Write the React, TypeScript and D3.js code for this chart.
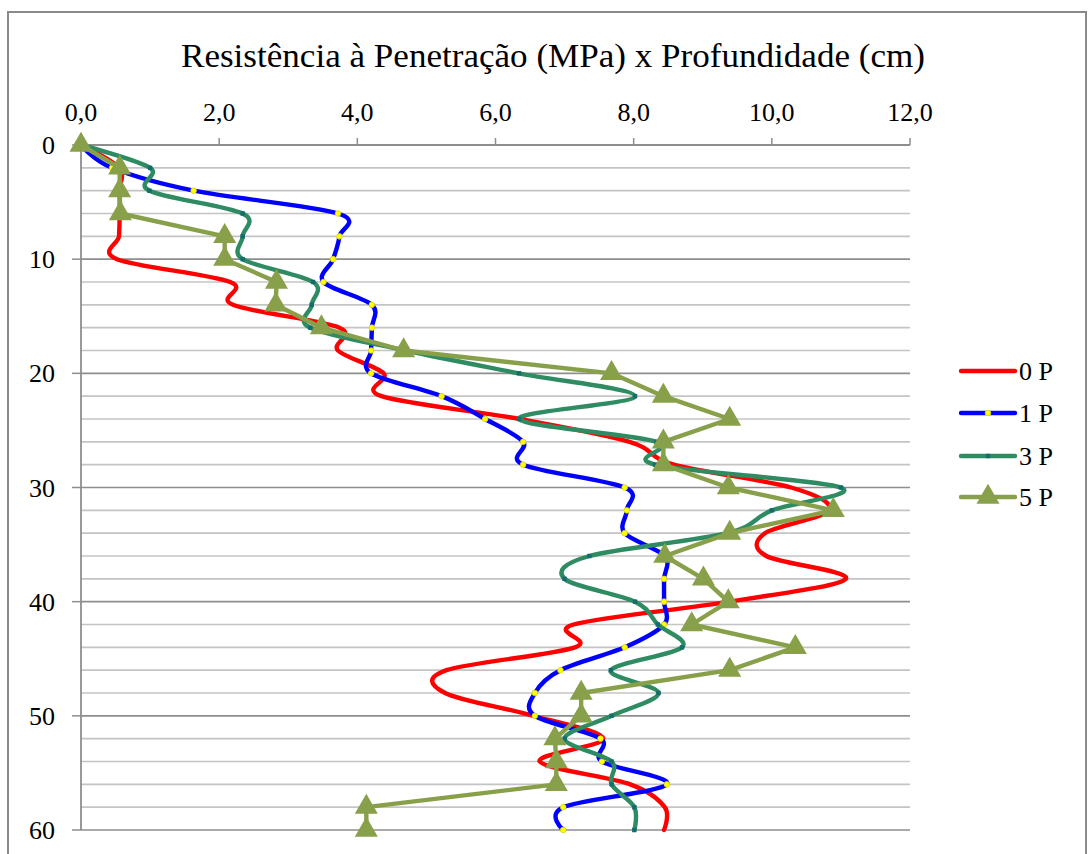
import React from "react";
import * as d3 from "d3";

const title = "Resistência à Penetração (MPa) x Profundidade (cm)";
const depths = [0, 2, 4, 6, 8, 10, 12, 14, 16, 18, 20, 22, 24, 26, 28, 30, 32, 34, 36, 38, 40, 42, 44, 46, 48, 50, 52, 54, 56, 58, 60];
const p0 = [0, 0.55, 0.56, 0.56, 0.55, 0.52, 2.16, 2.2, 3.74, 3.72, 4.38, 4.35, 6.35, 7.94, 8.58, 10.28, 10.83, 9.9, 9.92, 11.07, 9.39, 7.13, 7.15, 5.29, 5.27, 6.55, 7.56, 6.64, 7.95, 8.45, 8.44];
const p1 = [0, 0.45, 1.63, 3.72, 3.74, 3.65, 3.51, 4.21, 4.21, 4.2, 4.2, 5.22, 5.85, 6.4, 6.4, 7.87, 7.9, 7.87, 8.45, 8.44, 8.44, 8.44, 7.87, 6.94, 6.57, 6.57, 7.52, 7.54, 8.48, 6.98, 6.98];
const p3 = [0, 1.0, 0.99, 2.34, 2.34, 2.34, 3.36, 3.34, 3.32, 4.7, 6.34, 8.02, 6.34, 8.33, 8.31, 11.0, 10.0, 9.35, 7.36, 7.0, 8.02, 8.35, 8.7, 7.67, 8.36, 7.68, 7.0, 7.68, 7.68, 8.01, 8.01];
const p5 = [0, 0.56, 0.56, 0.57, 2.08, 2.08, 2.83, 2.82, 3.48, 4.67, 7.68, 8.43, 9.39, 8.43, 8.43, 9.37, 10.89, 9.39, 8.45, 9.01, 9.37, 8.84, 10.34, 9.39, 7.24, 7.24, 6.86, 6.88, 6.88, 4.13, 4.13];
const seriesNames = ["0 P", "1 P", "3 P", "5 P"];
const xTicks = [0, 2, 4, 6, 8, 10, 12];
const yTicks = [0, 10, 20, 30, 40, 50, 60];

const colors = ["#ff0000", "#0000ff", "#2e8b62", "#88a04a"];

export default function App() {
  const W = 1091, H = 854;
  const x = d3.scaleLinear().domain([0, 12]).range([81, 910]);
  const y = d3.scaleLinear().domain([0, 60]).range([145, 830]);
  const data = [p0, p1, p3, p5];
  const smooth = d3.line<number>().x((v) => x(v)).y((_, i) => y(depths[i])).curve(d3.curveCatmullRom.alpha(0));
  const straight = d3.line<number>().x((v) => x(v)).y((_, i) => y(depths[i])).curve(d3.curveLinear);
  const tri = d3.symbol().type(d3.symbolTriangle).size(230)()!;
  const gridDepths = d3.range(2, 61, 2);
  const fmt = (v: number) => v.toFixed(1).replace(".", ",");
  const serif: React.CSSProperties = { fontFamily: "'Liberation Serif', 'DejaVu Serif', 'Times New Roman', Times, serif" };
  const legendY = [371, 413, 456, 497];

  const marker = (si: number, cx: number, cy: number, key: string) => {
    if (si === 1) return <circle key={key} cx={cx} cy={cy} r={2.8} fill="#ffff00" stroke="#d8d800" strokeWidth={0.8} />;
    if (si === 2) return <rect key={key} x={cx - 2.2} y={cy - 2.2} width={4.4} height={4.4} fill="#136d6d" />;
    if (si === 3) return <path key={key} d={tri} transform={`translate(${cx},${cy})`} fill="#88a04a" />;
    return null;
  };

  return (
    <svg width={W} height={H} style={{ position: "absolute", left: 0, top: 0, background: "#fff" }}>
      <rect x={0} y={0} width={W} height={H} fill="#fff" />
      <rect x={8} y={12} width={1078} height={H + 20} fill="none" stroke="#8a8a8a" strokeWidth={2} />
      <text x={553} y={67} fontSize={33} textAnchor="middle" textLength={744} lengthAdjust="spacingAndGlyphs" fill="#000" style={serif}>{title}</text>

      {gridDepths.map((d) => (
        <line key={"g" + d} x1={x(0)} x2={x(12)} y1={y(d)} y2={y(d)}
          stroke={d % 10 === 0 ? "#8e8e8e" : "#c4c4c4"} strokeWidth={1.6} />
      ))}
      <line x1={x(0)} x2={x(12)} y1={y(0)} y2={y(0)} stroke="#8e8e8e" strokeWidth={1.8} />
      <line x1={x(0)} x2={x(0)} y1={y(0)} y2={y(60)} stroke="#8e8e8e" strokeWidth={1.8} />
      {xTicks.map((t) => (
        <g key={"xt" + t}>
          <line x1={x(t)} x2={x(t)} y1={y(0) - 7} y2={y(0)} stroke="#8e8e8e" strokeWidth={1.5} />
          <text x={x(t)} y={121} fontSize={26} textAnchor="middle" fill="#000" style={serif}>{fmt(t)}</text>
        </g>
      ))}
      {yTicks.map((t) => (
        <g key={"yt" + t}>
          <line x1={x(0) - 9} x2={x(0)} y1={y(t)} y2={y(t)} stroke="#8e8e8e" strokeWidth={1.5} />
          <text x={55} y={y(t) + 9} fontSize={26} textAnchor="end" fill="#000" style={serif}>{t}</text>
        </g>
      ))}

      {data.map((s, si) => (
        <g key={"s" + si}>
          <path d={(si === 3 ? straight : smooth)(s)!} fill="none" stroke={colors[si]} strokeWidth={4.4}
            strokeLinejoin="round" strokeLinecap="round" />
          {s.map((v, i) => marker(si, x(v), y(depths[i]), `m${si}-${i}`))}
        </g>
      ))}

      {seriesNames.map((n, si) => (
        <g key={"l" + si}>
          <line x1={961} x2={1015} y1={legendY[si]} y2={legendY[si]} stroke={colors[si]} strokeWidth={4.4} strokeLinecap="round" />
          {marker(si, 988, legendY[si], "lm" + si)}
          <text x={1019} y={legendY[si] + 9} fontSize={26} fill="#000" style={serif}>{n}</text>
        </g>
      ))}
    </svg>
  );
}
